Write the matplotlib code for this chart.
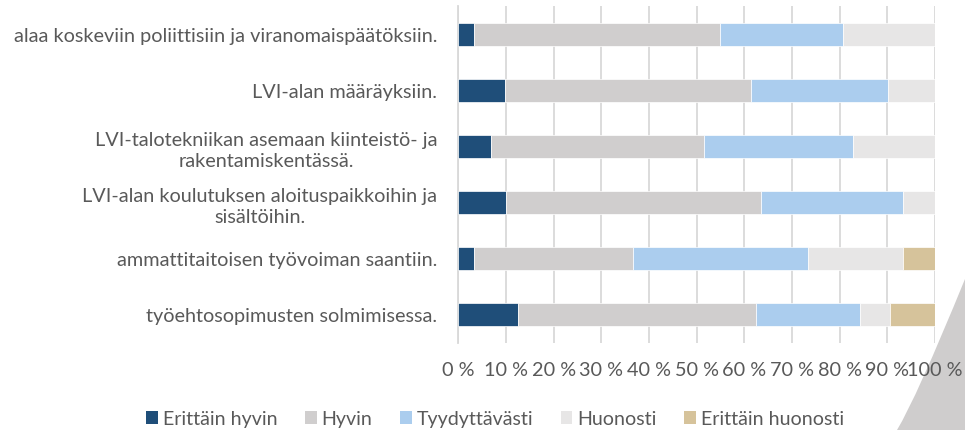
import matplotlib
matplotlib.use("Agg")
import matplotlib.pyplot as plt
import numpy as np
from matplotlib.path import Path
from matplotlib.patches import PathPatch

plt.rcParams['font.family'] = ['Lato', 'DejaVu Sans']

categories = [
    "alaa koskeviin poliittisiin ja viranomaispäätöksiin.",
    "LVI-alan määräyksiin.",
    "LVI-talotekniikan asemaan kiinteistö- ja\nrakentamiskentässä.",
    "LVI-alan koulutuksen aloituspaikkoihin ja\nsisältöihin.",
    "ammattitaitoisen työvoiman saantiin.",
    "työehtosopimusten solmimisessa.",
]
series_names = ["Erittäin hyvin", "Hyvin", "Tyydyttävästi", "Huonosti", "Erittäin huonosti"]
erittain_hyvin = [3.3, 9.7, 6.9, 10.0, 3.3, 12.5]
hyvin = [51.5, 51.6, 44.7, 53.4, 33.4, 50.0]
tyydyttavasti = [25.8, 28.8, 31.1, 29.8, 36.6, 21.8]
huonosti = [19.4, 9.9, 17.3, 6.8, 19.9, 6.3]
erittain_huonosti = [0.0, 0.0, 0.0, 0.0, 6.8, 9.4]
xticks = [0, 10, 20, 30, 40, 50, 60, 70, 80, 90, 100]
xtick_labels = [f"{v} %" for v in xticks]

colors = ["#1F4E79", "#D0CECE", "#ABCDEE", "#E7E6E6", "#D6C39B"]

W, H = 965, 431
fig = plt.figure(figsize=(W / 100, H / 100), dpi=100)

# decorative gray swoosh bottom right (behind everything)
def fp(px, py):
    return (px / W, 1 - py / H)
verts = [fp(897, 431), fp(916, 400), fp(965, 280), fp(965, 431), fp(897, 431)]
codes = [Path.MOVETO, Path.CURVE3, Path.CURVE3, Path.LINETO, Path.CLOSEPOLY]
fig.patches.append(PathPatch(Path(verts, codes), transform=fig.transFigure,
                             facecolor='#CFCDCD', edgecolor='none', zorder=-5))

ax = fig.add_axes([458.3 / W, 1 - 343.5 / H, (935 - 458.3) / W, (343.5 - 7) / H])
ax.patch.set_alpha(0)

y = np.arange(len(categories))
left = np.zeros(len(categories))
for name, vals, c in zip(series_names,
                         [erittain_hyvin, hyvin, tyydyttavasti, huonosti, erittain_huonosti],
                         colors):
    vals = np.array(vals)
    ax.barh(y, vals, left=left, height=0.41, color=c, edgecolor='white',
            linewidth=0.5, label=name, zorder=3)
    left = left + vals

ax.set_xlim(0, 100)
ax.set_ylim(len(categories) - 0.5, -0.5)
ax.set_xticks(xticks)
ax.set_xticklabels(xtick_labels)
ax.set_yticks(y)
ax.set_yticklabels(categories)
ax.tick_params(axis='both', length=0, labelsize=14.3, labelcolor='#595959')
ax.tick_params(axis='y', pad=15)
ax.tick_params(axis='x', pad=13)
for t in ax.get_yticklabels():
    t.set_horizontalalignment('right')
    t.set_multialignment('center')
    t.set_linespacing(1.3)
ax.grid(axis='x', color='#D9D9D9', linewidth=1.3, zorder=0)
for s in ['top', 'right', 'bottom']:
    ax.spines[s].set_visible(False)
ax.spines['left'].set_color('#D9D9D9')
ax.spines['left'].set_linewidth(1.3)

handles, labels = ax.get_legend_handles_labels()
leg = fig.legend(handles, labels, loc='center', bbox_to_anchor=(495 / W, 1 - 420 / H),
                 ncol=5, frameon=False, fontsize=14.1, handlelength=0.6, handleheight=0.6,
                 handletextpad=0.25, columnspacing=1.4, labelcolor='#595959')
for h in leg.legend_handles:
    h.set_edgecolor('none')

fig.savefig("out.png", dpi=100)
